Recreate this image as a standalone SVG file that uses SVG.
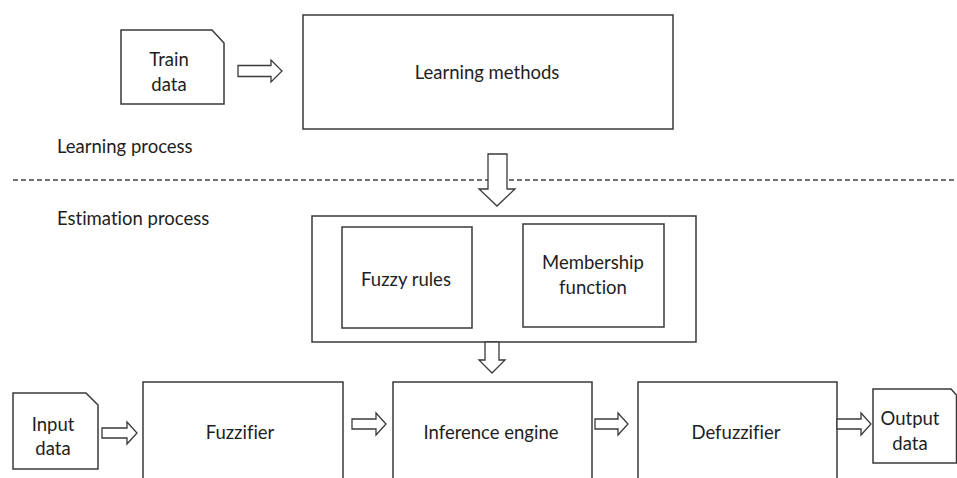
<svg xmlns="http://www.w3.org/2000/svg" width="957" height="478" viewBox="0 0 957 478">
<style>
.box{fill:#fff;stroke:#3a3a3a;stroke-width:1.5}
.arr{fill:#fff;stroke:#3a3a3a;stroke-width:1.3;stroke-linejoin:miter}
.t{font-family:Lato,"Liberation Sans",sans-serif;font-size:18.5px;fill:#1e1e1e;font-variant-ligatures:none;font-feature-settings:"liga" 0,"clig" 0}
.c{text-anchor:middle}
.dash{stroke:#444;stroke-width:1.3;stroke-dasharray:5 3;fill:none}
</style>
<rect width="957" height="478" fill="#fff"/>
<g id="labels">
<text class="t" x="57" y="153">Learning process</text>
<text class="t" x="57" y="225">Estimation process</text>
</g>
<line class="dash" x1="13" y1="180" x2="957" y2="180"/>
<g id="train-data">
<path class="box" d="M121,30 H212 L224,43 V104 H121 Z"/>
<text class="t c" x="169" y="66">Train</text>
<text class="t c" x="169" y="91">data</text>
</g>
<g id="learning-methods">
<rect class="box" x="303" y="15" width="370" height="114"/>
<text class="t c" x="487" y="79">Learning methods</text>
</g>
<g id="knowledge-base">
<rect class="box" x="312" y="216" width="384" height="126"/>
</g>
<g id="fuzzy-rules">
<rect class="box" x="342" y="227" width="130" height="101"/>
<text class="t c" x="406" y="286">Fuzzy rules</text>
</g>
<g id="membership-function">
<rect class="box" x="523" y="224" width="141" height="103"/>
<text class="t c" x="593" y="269">Membership</text>
<text class="t c" x="593" y="294">function</text>
</g>
<g id="input-data">
<path class="box" d="M13,393 H86 L98,405 V469 H13 Z"/>
<text class="t c" x="53" y="431">Input</text>
<text class="t c" x="53" y="455">data</text>
</g>
<g id="fuzzifier">
<rect class="box" x="143" y="382" width="200" height="100"/>
<text class="t c" x="240" y="439">Fuzzifier</text>
</g>
<g id="inference-engine">
<rect class="box" x="393" y="382" width="199" height="100"/>
<text class="t c" x="491" y="439">Inference engine</text>
</g>
<g id="defuzzifier">
<rect class="box" x="638" y="382" width="199" height="100"/>
<text class="t c" x="736" y="439">Defuzzifier</text>
</g>
<g id="output-data">
<path class="box" d="M873,389 H951 L956.5,395 V463 H873 Z"/>
<text class="t c" x="910" y="425">Output</text>
<text class="t c" x="910" y="450">data</text>
</g>
<g id="connectors">
<path class="arr" d="M238,65.5 H271 V60 L282,71 L271,82 V76.5 H238 Z"/>
<path class="arr" d="M488,154 H507 V189 H515 L497,206 L479,189 H488 Z"/>
<path class="arr" d="M485,342 H499 V360 H505 L492,373 L479,360 H485 Z"/>
<path class="arr" d="M102,428 H127 V422 L137,433 L127,444 V438 H102 Z"/>
<path class="arr" d="M352,419 H376 V413 L386,424 L376,435 V429 H352 Z"/>
<path class="arr" d="M595,419 H618 V413 L628,424 L618,435 V429 H595 Z"/>
<path class="arr" d="M837,419 H861 V413 L871,424 L861,435 V429 H837 Z"/>
</g>
</svg>
